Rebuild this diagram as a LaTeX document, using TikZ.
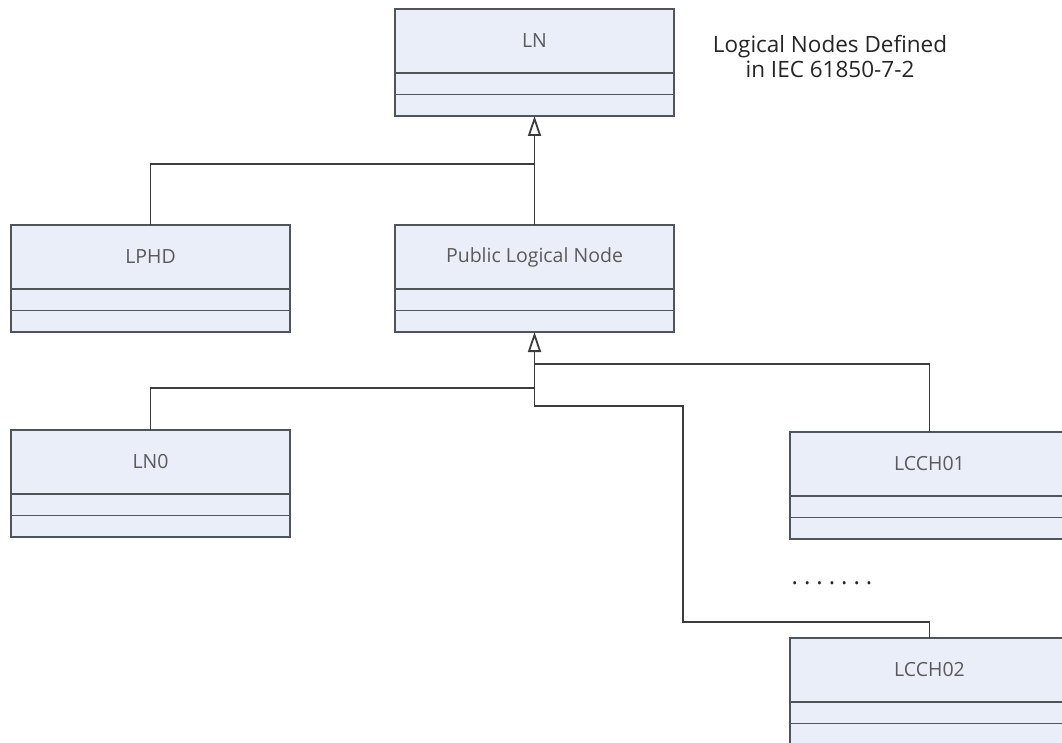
\documentclass[tikz,border=0pt]{standalone}
\usepackage{fontspec}
\setmainfont{Open Sans}
\usepackage{tikz}
\usetikzlibrary{arrows.meta,positioning}
\definecolor{clsfill}{HTML}{E9EEF8}
\definecolor{clsline}{HTML}{50555C}
\definecolor{clstext}{HTML}{5A5A5A}
\definecolor{wire}{HTML}{3C3C3C}

\tikzset{
  clsname/.style={rectangle, draw=clsline, fill=clsfill, line width=1.5pt, minimum width=279pt, minimum height=64pt, inner sep=0pt, outer sep=0pt, text=clstext, font=\fontsize{19.5}{23}\selectfont},
  clsslot/.style={rectangle, draw=clsline, fill=clsfill, line width=1.5pt, minimum width=279pt, minimum height=21.5pt, inner sep=0pt, outer sep=0pt},
  wire/.style={draw=wire, line width=1.2pt},
  inherit/.style={wire, {Triangle[open, length=20pt, width=13pt, line width=1.8pt]}-}
}

\begin{document}
\begin{tikzpicture}[x=1pt, y=-1pt]
    \clip (0,0) rectangle (1062,743);
    \fill[white] (0,0) rectangle (1062,743);

    % classes
    \node[clsname] (ln) at (534.5,41) {LN};
    \node[clsslot, below=0pt of ln] (ln-a) {};
    \node[clsslot, below=0pt of ln-a] (ln-b) {};

    \node[clsname] (lphd) at (150.5,257) {LPHD};
    \node[clsslot, below=0pt of lphd] (lphd-a) {};
    \node[clsslot, below=0pt of lphd-a] (lphd-b) {};

    \node[clsname] (pln) at (534.5,257) {Public Logical Node};
    \node[clsslot, below=0pt of pln] (pln-a) {};
    \node[clsslot, below=0pt of pln-a] (pln-b) {};

    \node[clsname] (ln0) at (150.5,462) {LN0};
    \node[clsslot, below=0pt of ln0] (ln0-a) {};
    \node[clsslot, below=0pt of ln0-a] (ln0-b) {};

    \node[clsname] (lcch01) at (929.5,464) {LCCH01};
    \node[clsslot, below=0pt of lcch01] (lcch01-a) {};
    \node[clsslot, below=0pt of lcch01-a] (lcch01-b) {};

    \node[clsname] (lcch02) at (929.5,670) {LCCH02};
    \node[clsslot, below=0pt of lcch02] (lcch02-a) {};
    \node[clsslot, below=0pt of lcch02-a] (lcch02-b) {};

    \node[align=center, text=black!85, font=\fontsize{22.5}{25}\selectfont] (note) at (830,57) {Logical Nodes Defined\\in IEC 61850-7-2};
    \node[text=black!85, font=\fontsize{24}{26}\selectfont\addfontfeature{LetterSpace=25}] (dots) at (832,583) {.......};

    % junctions
    \coordinate (j-lphd) at (534.5,164);
    \coordinate (j-lcch01) at (534.5,364);
    \coordinate (j-ln0) at (534.5,388);
    \coordinate (b-top) at (683,406);
    \coordinate (b-low) at (683,622);

    % generalisations
    \draw[inherit] (ln-b.south) -- (pln.north);
    \draw[wire] (lphd.north) |- (j-lphd);
    \draw[inherit] (pln-b.south) |- (b-top) -- (b-low) -| (lcch02.north);
    \draw[wire] (lcch01.north) |- (j-lcch01);
    \draw[wire] (ln0.north) |- (j-ln0);
\end{tikzpicture}
\end{document}
